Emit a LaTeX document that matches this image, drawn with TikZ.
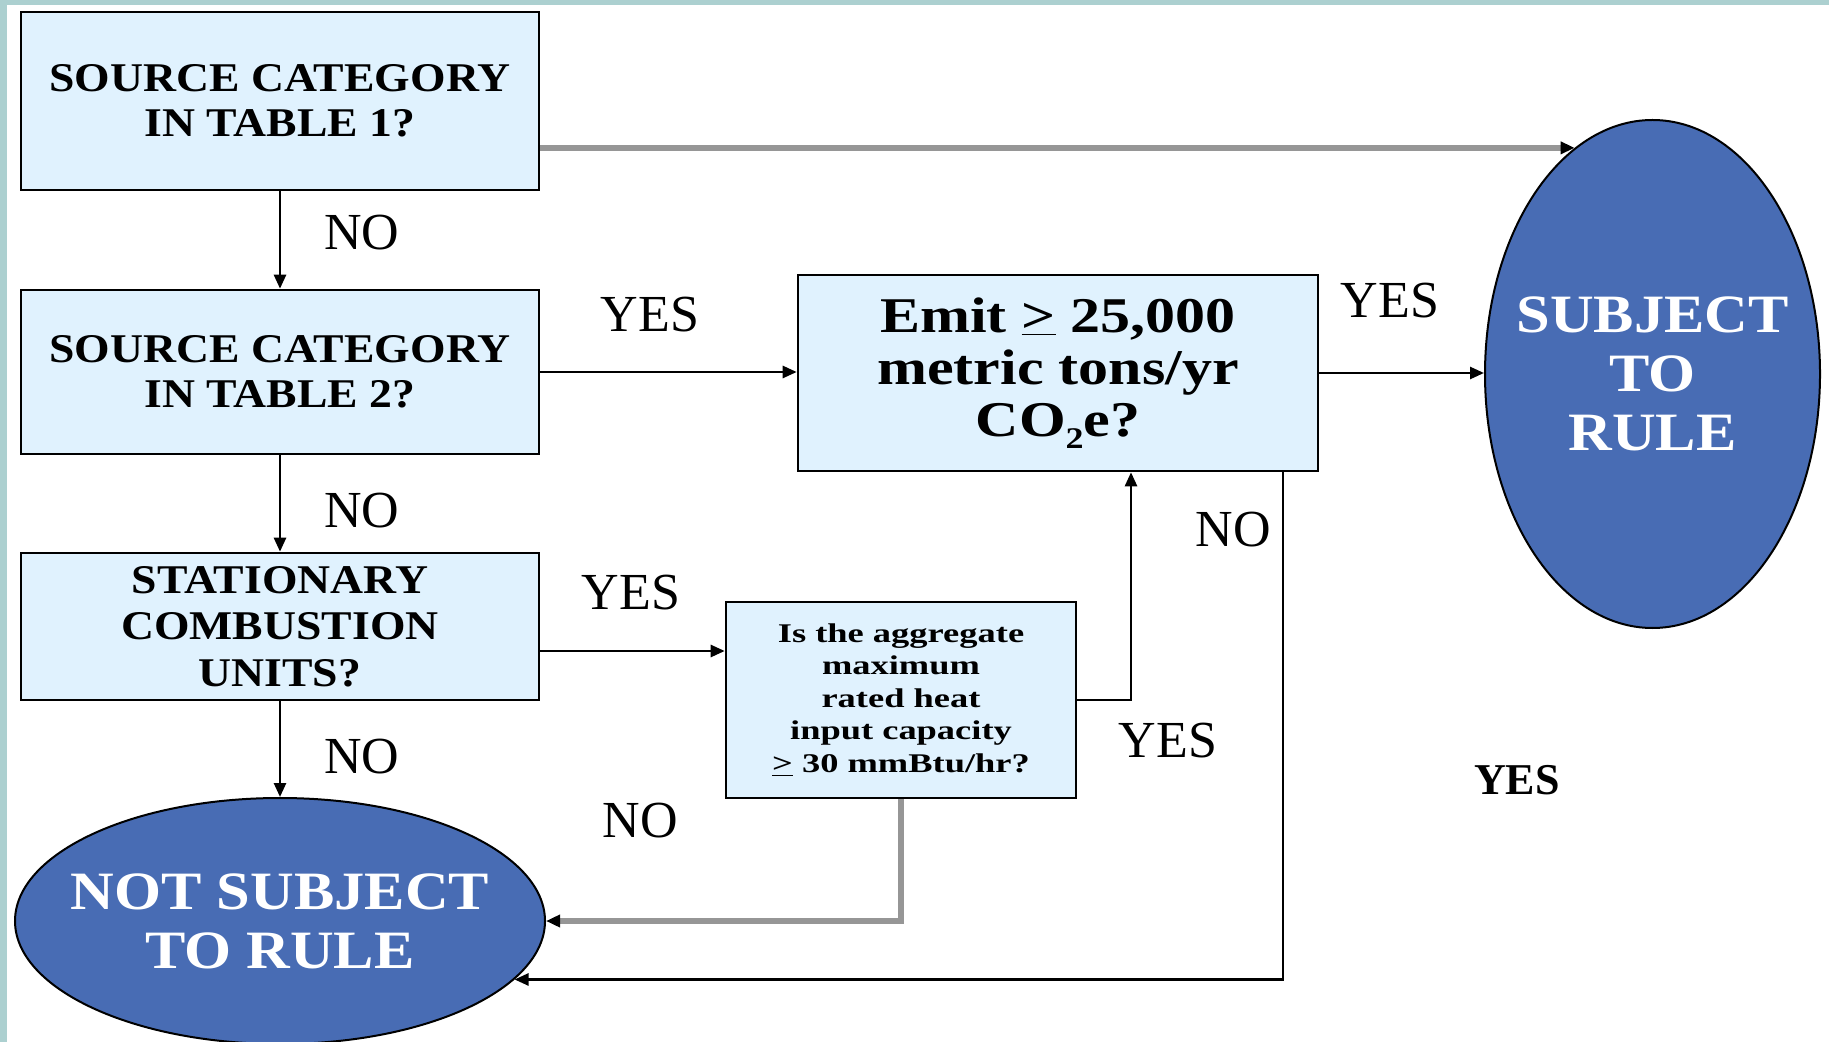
\documentclass[tikz,border=0pt]{standalone}
\usepackage{fontspec}
\setmainfont{Liberation Serif}
\newfontfamily\boxf[FakeStretch=1.12]{Liberation Serif}
\newfontfamily\lowf[FakeStretch=1.2]{Liberation Serif}
\newfontfamily\smallf[FakeStretch=1.35]{Liberation Serif}
\usetikzlibrary{arrows.meta,shapes.geometric}
\definecolor{boxfill}{RGB}{224,242,254}
\definecolor{ellfill}{RGB}{72,108,180}
\definecolor{framec}{RGB}{172,208,208}
\definecolor{gline}{RGB}{150,150,150}
\begin{document}
\begin{tikzpicture}[x=0.5pt,y=-0.5pt,
  qbox/.style={draw=black,line width=1.3pt,fill=boxfill,inner sep=0pt,align=center,text=black},
  endell/.style={ellipse,draw=black,line width=1pt,fill=ellfill,inner sep=0pt},
  elltext/.style={inner sep=0pt,align=center,text=white,font=\boxf\bfseries\fontsize{27}{29.5}\selectfont},
  arr/.style={line width=1.3pt,-{Triangle[length=7pt,width=6pt]}},
  garr/.style={draw=gline,line width=2.8pt,-{Triangle[length=7pt,width=6pt,color=black]}},
  lab/.style={font=\fontsize{26}{26}\selectfont,inner sep=0pt}
]
\useasboundingbox (0,0) rectangle (1829,1042);
\clip (0,0) rectangle (1829,1042);
\fill[white] (0,0) rectangle (1829,1042);
\fill[framec] (0,0) rectangle (1829,5);
\fill[framec] (0,0) rectangle (7,1042);

\node[qbox,minimum width=259pt,minimum height=89pt,font=\boxf\bfseries\fontsize{20.4}{22.7}\selectfont] (b1) at (280,101) {SOURCE CATEGORY\\IN TABLE 1?};
\node[qbox,minimum width=259pt,minimum height=82pt,font=\boxf\bfseries\fontsize{20.4}{22.7}\selectfont] (b2) at (280,372) {SOURCE CATEGORY\\IN TABLE 2?};
\node[qbox,minimum width=259pt,minimum height=73.5pt,font=\boxf\bfseries\fontsize{20.4}{23.3}\selectfont] (b3) at (280,626.5) {STATIONARY\\COMBUSTION\\UNITS?};
\node[qbox,minimum width=260pt,minimum height=98pt,font=\lowf\bfseries\fontsize{25}{26}\selectfont] (emit) at (1058,373) {Emit \underline{>} 25,000\\metric tons/yr\\CO\raisebox{-0.55ex}{\fontsize{15}{15}\selectfont 2}e?};
\node[qbox,minimum width=175pt,minimum height=98pt,font=\smallf\bfseries\fontsize{13.5}{16.3}\selectfont] (small) at (901,700) {Is the aggregate\\maximum\\rated heat\\input capacity\\\underline{>} 30 mmBtu/hr?};
\node[endell,minimum width=265pt,minimum height=123pt] (notsub) at (280,921) {};
\node[elltext] (notsubT) at (notsub.center) {NOT SUBJECT\\TO RULE};
\node[endell,minimum width=167.5pt,minimum height=254pt] (subj) at (1652.5,374) {};
\node[elltext] (subjT) at (subj.center) {SUBJECT\\TO\\RULE};

\draw[garr] (b1.east |- subj.109) -- (subj.109);
\draw[arr] (b1.south) -- (b2.north);
\draw[arr] (b2.east) -- (b2.east -| emit.west);
\draw[arr] (emit.east) -- (emit.east -| subj.west);
\draw[arr] (b2.south) -- (b3.north);
\coordinate (sIn) at ([yshift=24.5pt]small.west);
\draw[arr] (b3.east |- sIn) -- (sIn);
\draw[arr] (b3.south) -- (notsub.north);
\coordinate (eIn) at ([xshift=36.5pt]emit.south);
\draw[arr] (small.east) -| (eIn);
\draw[garr] (small.south) |- (notsub.east);
\coordinate (eOut) at ([xshift=112.5pt]emit.south);
\draw[arr] (eOut) |- (notsub.-14);

\node[lab] (l1) at (362,233) {NO};
\node[lab] (l2) at (650,315) {YES};
\node[lab] (l3) at (1390,301) {YES};
\node[lab] (l4) at (362,511) {NO};
\node[lab] (l5) at (631,593) {YES};
\node[lab] (l6) at (362,757) {NO};
\node[lab] (l7) at (1168,741) {YES};
\node[lab] (l8) at (640,821) {NO};
\node[lab] (l9) at (1233,530) {NO};
\node[font=\bfseries\fontsize{22}{22}\selectfont,inner sep=0pt] (l10) at (1517,780) {YES};
\end{tikzpicture}
\end{document}
